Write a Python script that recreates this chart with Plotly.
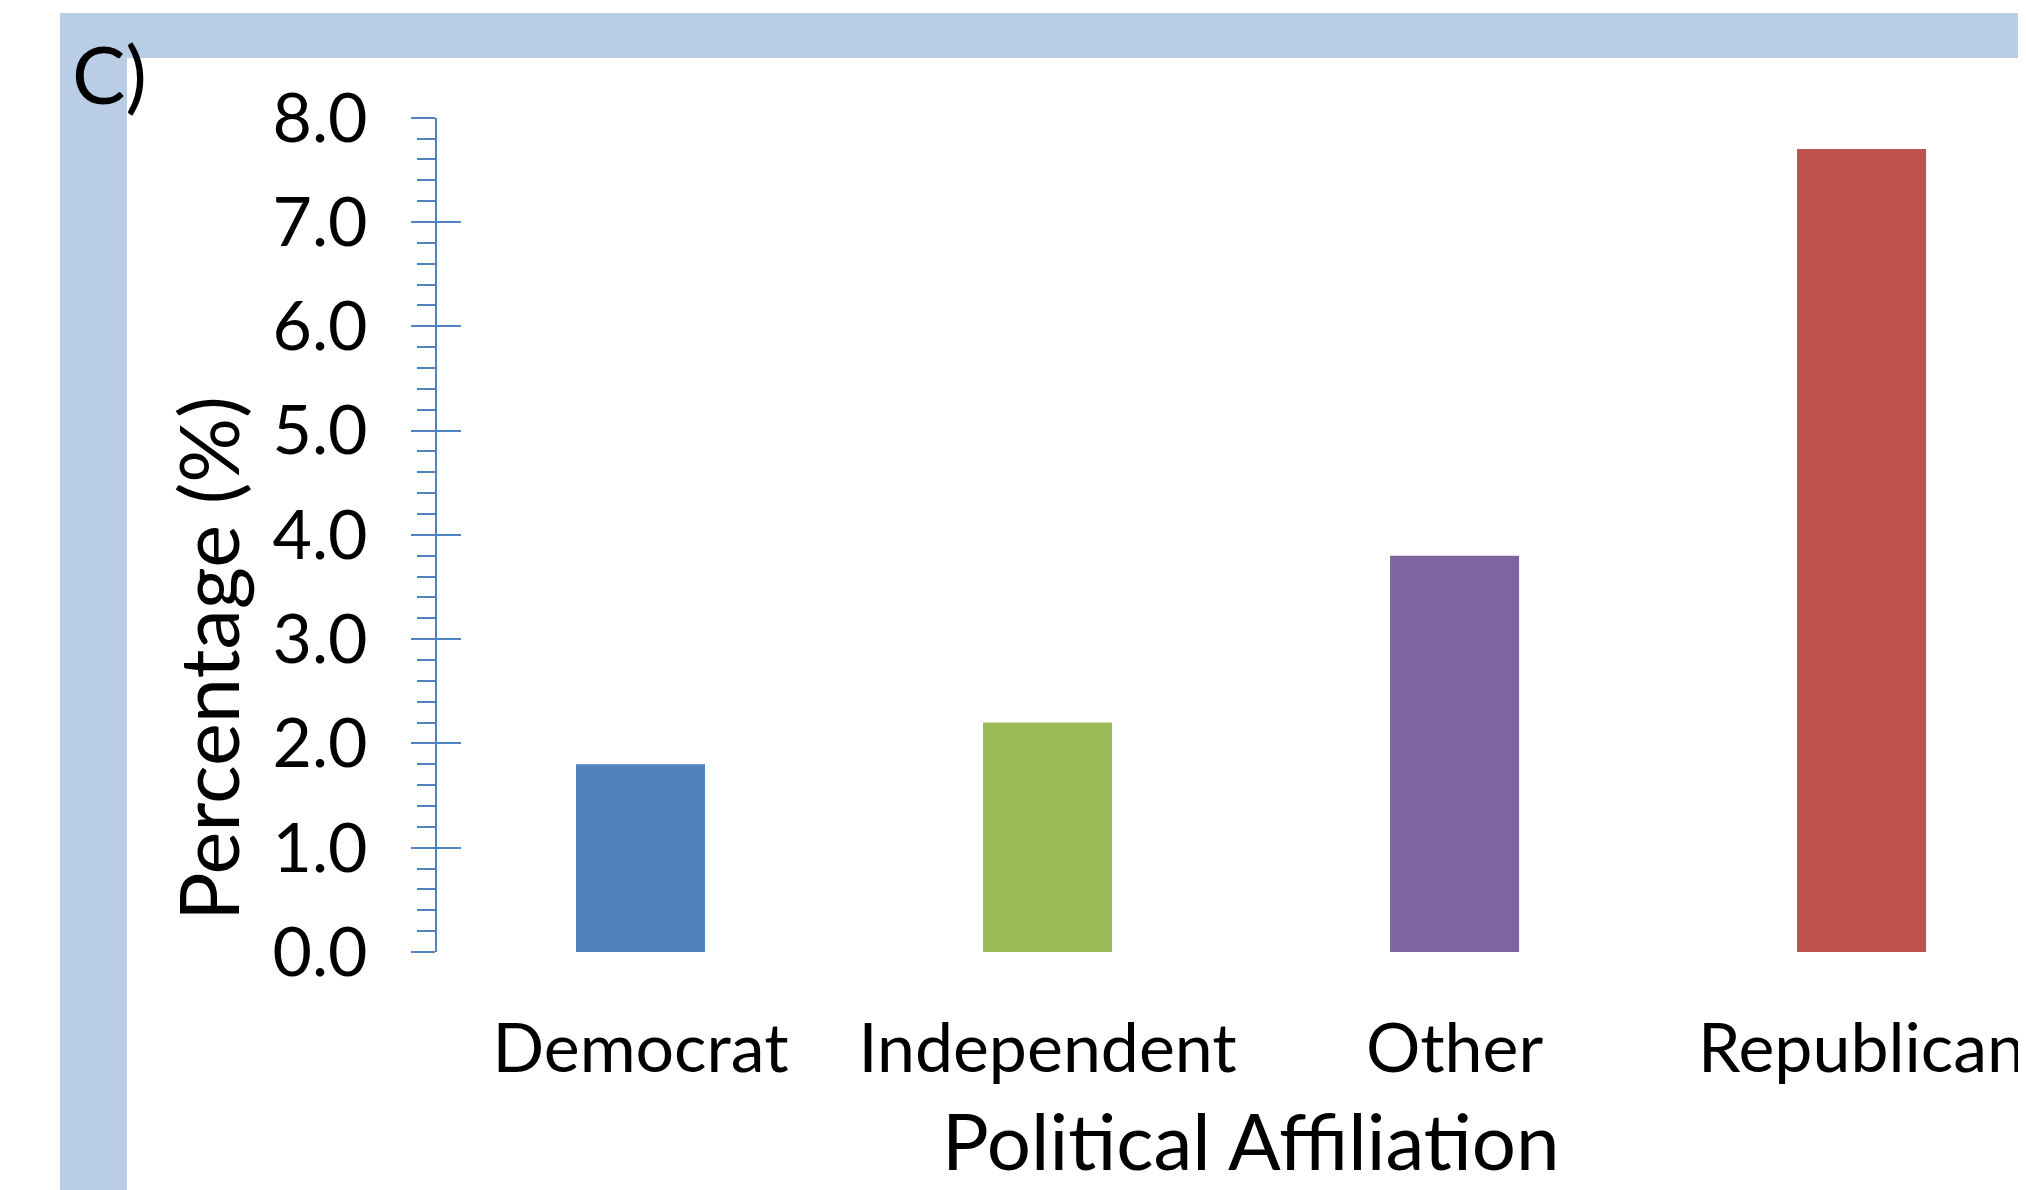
import plotly.graph_objects as go

categories = ["Democrat", "Independent", "Other", "Republican"]
values = [1.8, 2.2, 3.8, 7.7]
colors = ["#4F81BD", "#9BBB59", "#8064A2", "#C0504D"]
y_tickvals = [0, 1, 2, 3, 4, 5, 6, 7, 8]
y_ticktext = ["0.0", "1.0", "2.0", "3.0", "4.0", "5.0", "6.0", "7.0", "8.0"]

# page body has an 8px margin; shift the figure so it lands where the reference is
OFF = 8
W, H = 2026 - OFF, 1190 - OFF
FONT = "Lato"
AXIS_BLUE = "#4F81BD"
FRAME = "#B9CDE5"


def px(x):
    return (x - OFF) / W


def py(y):
    return 1 - (y - OFF) / H


y_dom = [py(952), py(117.7)]

fig = go.Figure()
fig.add_trace(go.Bar(x=categories, y=values, marker=dict(color=colors, line=dict(width=0)),
                     showlegend=False, hoverinfo="x+y"))
# invisible helper so the overlay axis (inner halves of major ticks) is drawn
fig.add_trace(go.Scatter(x=[categories[0]], y=[0], yaxis="y2", mode="markers",
                         marker=dict(opacity=0), showlegend=False, hoverinfo="skip"))

fig.update_layout(
    template="none",
    width=W, height=H,
    margin=dict(l=0, r=0, t=0, b=0, pad=0, autoexpand=False),
    paper_bgcolor="white", plot_bgcolor="white",
    bargap=0.683,
    showlegend=False,
    font=dict(family=FONT, color="black", size=68),
    xaxis=dict(domain=[px(437), 1], range=[-0.5, 3.404], showline=False, showgrid=False,
               zeroline=False, ticks="", tickfont=dict(size=68, family=FONT, color="black"),
               ticklabelstandoff=51, automargin=False),
    yaxis=dict(domain=y_dom, range=[0, 8], tickvals=y_tickvals, ticktext=y_ticktext,
               showline=True, linecolor=AXIS_BLUE, linewidth=2,
               ticks="outside", ticklen=24, tickwidth=2, tickcolor=AXIS_BLUE,
               minor=dict(ticks="outside", dtick=0.2, ticklen=18, tickwidth=2, tickcolor=AXIS_BLUE,
                          showgrid=False),
               showgrid=False, zeroline=False, tickfont=dict(size=68, family=FONT, color="black"),
               ticklabelstandoff=30, automargin=False),
    yaxis2=dict(domain=y_dom, range=[0, 8], overlaying="y", anchor="x", side="left",
                tickvals=y_tickvals, showticklabels=False, showline=False,
                ticks="inside", ticklen=24, tickwidth=2, tickcolor=AXIS_BLUE,
                showgrid=False, zeroline=False, automargin=False),
    shapes=[
        dict(type="rect", xref="paper", yref="paper", x0=px(60), x1=1.01, y0=py(58), y1=py(13),
             fillcolor=FRAME, line=dict(width=0), layer="below"),
        dict(type="rect", xref="paper", yref="paper", x0=px(60), x1=px(127), y0=-0.01, y1=py(13),
             fillcolor=FRAME, line=dict(width=0), layer="below"),
    ],
    annotations=[
        dict(text="C)", xref="paper", yref="paper", x=px(70), y=py(73), xanchor="left", yanchor="middle",
             showarrow=False, font=dict(size=80, family=FONT, color="black")),
        dict(text="Percentage (%)", xref="paper", yref="paper", x=px(207), y=py(659), textangle=-90,
             xanchor="center", yanchor="middle", showarrow=False,
             font=dict(size=81, family=FONT, color="black")),
        dict(text="Political Affiliation", xref="paper", yref="paper", x=px(1250), y=py(1140),
             xanchor="center", yanchor="middle", showarrow=False,
             font=dict(size=78, family=FONT, color="black")),
    ],
)

fig.write_html("out.html")
